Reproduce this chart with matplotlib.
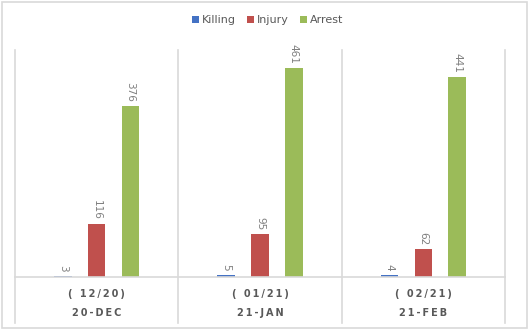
import matplotlib
matplotlib.use("Agg")
import matplotlib.pyplot as plt
from matplotlib.patches import Rectangle
import numpy as np

months = ["( 12/20)", "( 01/21)", "( 02/21)"]
years = ["20-DEC", "21-JAN", "21-FEB"]
series = ["Killing", "Injury", "Arrest"]
killing = [3, 5, 4]
injury = [116, 95, 62]
arrest = [376, 461, 441]
colors = ["#4472C4", "#C0504D", "#9BBB59"]

plt.rcParams["font.family"] = ["DejaVu Sans"]

fig = plt.figure(figsize=(5.3, 3.31), dpi=100)
W, H = 530, 331
ax = fig.add_axes([15 / W, (H - 277) / H, 490 / W, 227 / H])

# chart border
fig.patches.append(Rectangle((2 / W, 3 / H), 525 / W, 326 / H, transform=fig.transFigure,
                             fill=False, edgecolor="#d9d9d9", linewidth=1.2))

x = np.arange(len(months))
step = 0.207
width = 0.107
values = [killing, injury, arrest]
for i, (name, vals, c) in enumerate(zip(series, values, colors)):
    xs = x + (i - 1) * step
    ax.bar(xs, vals, width, color=c, label=name)
    for xi, v in zip(xs, vals):
        ax.text(xi, v + 9, str(v), rotation=-90, ha="center", va="bottom",
                fontsize=7.5, color="#7f7f7f", clip_on=False)

ax.set_xlim(-0.5, 2.5)
ax.set_ylim(0, 500)
ax.set_xticks([])
ax.set_yticks([])
for s in ["top", "left", "right"]:
    ax.spines[s].set_visible(False)
ax.spines["bottom"].set_color("#d9d9d9")
ax.spines["bottom"].set_linewidth(1.2)

# category separators extending down through the label area
bottom_ext = -(323 - 277) / 227
for xb in [-0.5, 0.5, 1.5, 2.5]:
    ax.plot([xb, xb], [bottom_ext, 1], transform=ax.get_xaxis_transform(),
            color="#d9d9d9", linewidth=1.2, clip_on=False)

ts = "\u2009"
for xi, m, yl in zip(x, months, years):
    ax.text(xi, -(294 - 277) / 227, ts.join(m), transform=ax.get_xaxis_transform(),
            ha="center", va="center", fontsize=7, color="#595959", fontweight="bold")
    ax.text(xi, -(313 - 277) / 227, ts.join(yl), transform=ax.get_xaxis_transform(),
            ha="center", va="center", fontsize=7, color="#595959", fontweight="bold")

fig.legend(loc="center", bbox_to_anchor=(268 / W, 1 - 20 / H), ncol=3, frameon=False,
           fontsize=8, handlelength=0.6, handleheight=0.6, handletextpad=0.3,
           columnspacing=1.0, labelcolor="#595959")

fig.savefig("out.png", dpi=100)
